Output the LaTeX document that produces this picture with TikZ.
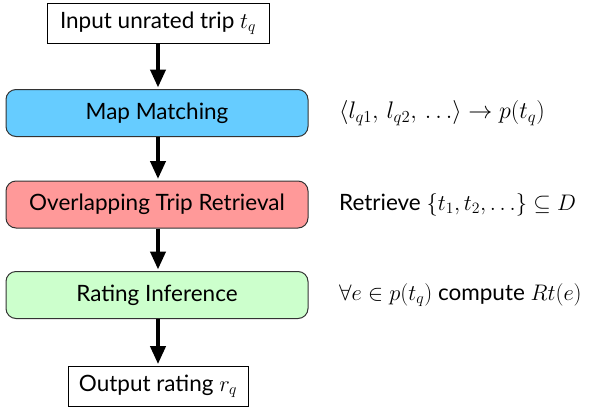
\RequirePackage{fix-cm}
\documentclass[tikz,border=0pt]{standalone}
\usepackage{fontspec}
\setmainfont{Lato}
\usetikzlibrary{arrows.meta,positioning}
\definecolor{mmblue}{RGB}{102,204,255}
\definecolor{otred}{RGB}{255,153,153}
\definecolor{rigreen}{RGB}{204,255,204}
\tikzset{
  iobox/.style={draw, line width=0.8pt, fill=white, inner sep=0pt, anchor=center},
  stagebox/.style={draw=black!80, line width=1pt, rounded corners=10pt, minimum width=302pt, minimum height=47pt, inner sep=0pt, anchor=center},
  note/.style={anchor=west, inner sep=0pt},
  flow/.style={line width=4pt, -{Triangle[length=18pt,width=15pt]}, shorten >=1.5pt}
}
\begin{document}
\begin{tikzpicture}[x=1pt,y=-1pt, font=\fontsize{22.5}{27}\selectfont]
\useasboundingbox (0,0) rectangle (590,408);
\node[iobox, minimum width=222pt, minimum height=40pt] (in) at (158,23) {Input unrated trip $t_q$};
\node[stagebox, fill=mmblue] (mm) at (157,113) {Map Matching};
\node[stagebox, fill=otred] (ot) at (157,204.5) {Overlapping Trip Retrieval};
\node[stagebox, fill=rigreen] (ri) at (157,295) {Rating Inference};
\node[iobox, minimum width=180pt, minimum height=40pt] (out) at (158,386) {Output rating $r_q$};
\node[note, font=\fontsize{24}{28}\selectfont] (n1) at (339,113) {$\langle l_{q1},\, l_{q2},\, \ldots\rangle \rightarrow p(t_q)$};
\node[note] (n2) at (339,204.5) {Retrieve $\{t_1, t_2, \ldots\} \subseteq D$};
\node[note] (n3) at (339,295) {$\forall e \in p(t_q)$ compute $Rt(e)$};
\draw[flow] (in.south) -- (mm.north -| in.south);
\draw[flow] (mm.south -| in.south) -- (ot.north -| in.south);
\draw[flow] (ot.south -| in.south) -- (ri.north -| in.south);
\draw[flow] (ri.south -| in.south) -- (out.north);
\end{tikzpicture}
\end{document}
